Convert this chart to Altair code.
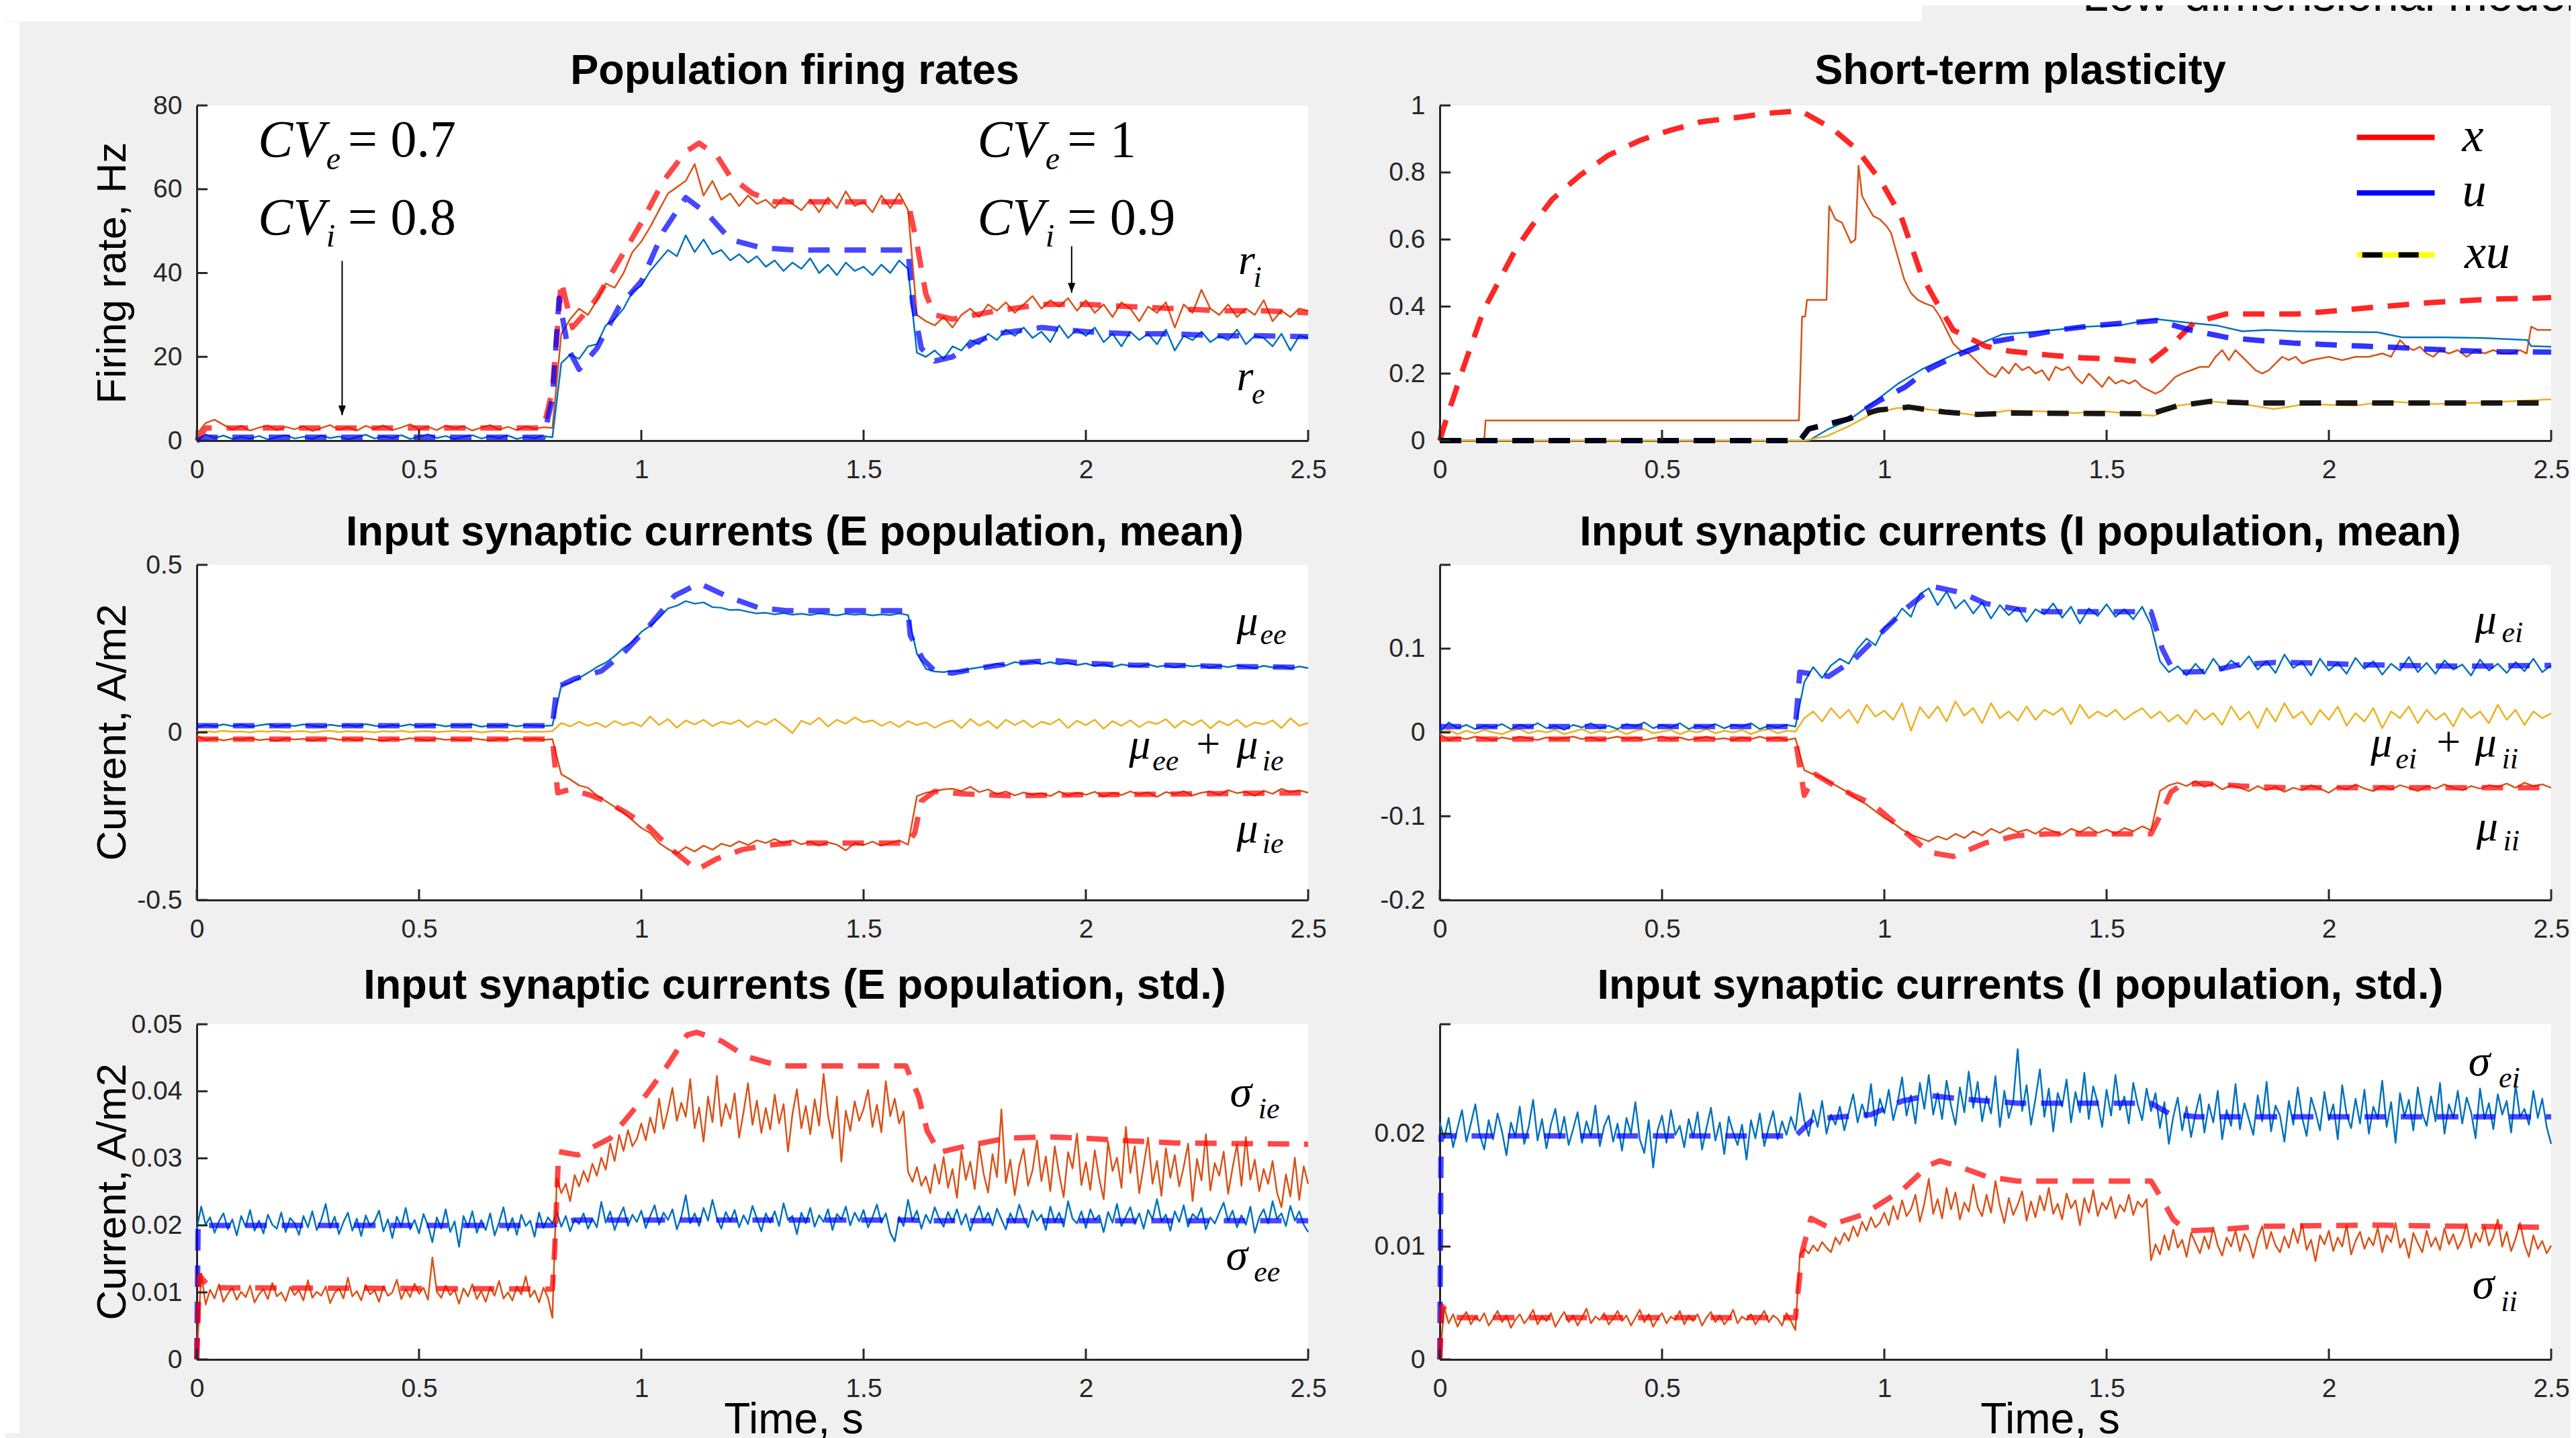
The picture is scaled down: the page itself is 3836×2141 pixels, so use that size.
import altair as alt
import pandas as pd

# ---------------- texts ----------------
HEADER_TEXT = "Low-dimensional model"
TITLES = ["Population firing rates", "Short-term plasticity",
          "Input synaptic currents (E population, mean)", "Input synaptic currents (I population, mean)",
          "Input synaptic currents (E population, std.)", "Input synaptic currents (I population, std.)"]
Y_TITLES = ["Firing rate, Hz", "Current, A/m2", "Current, A/m2"]
X_TITLE = "Time, s"

# ---------------- ticks / domains ----------------
X_TICKS = [0, 0.5, 1, 1.5, 2, 2.5]
P1_YDOM = [0, 80]; P1_YTICKS = [0, 20, 40, 60, 80]
P2_YDOM = [0, 1]; P2_YTICKS = [0, 0.2, 0.4, 0.6, 0.8, 1]
P3_YDOM = [-0.5, 0.5]; P3_YTICKS = [-0.5, 0, 0.5]
P4_YDOM = [-0.2, 0.2]; P4_YTICKS = [-0.2, -0.1, 0, 0.1]; P4_YMARKS = [-0.2, -0.1, 0, 0.1, 0.2]
P5_YDOM = [0, 0.05]; P5_YTICKS = [0, 0.01, 0.02, 0.03, 0.04, 0.05]
P6_YDOM = [0, 0.0297]; P6_YTICKS = [0, 0.01, 0.02]; P6_YMARKS = [0, 0.01, 0.02, 0.0297]

# sample times of the simulated traces
T02 = [round(0.02 * i, 2) for i in range(126)]
T01 = [round(0.01 * i, 2) for i in range(251)]

# ---------------- panel 1: firing rates ----------------
RI_SIM = [1.5, 4.2, 5.0, 3.8, 2.6, 3.5, 2.4, 3.1, 3.6, 2.5,
          3.3, 2.7, 3.4, 2.3, 3.0, 3.7, 2.6, 3.2, 2.4, 3.5,
          2.8, 3.6, 2.5, 3.1, 3.9, 2.7, 3.3, 2.5, 3.6, 2.9,
          3.4, 2.4, 3.1, 3.7, 2.6, 3.3, 2.5, 3.4, 2.8, 3.2,
          3.0, 25.5, 29.0, 31.5, 30.0, 33.5, 37.5, 36.5, 40.0, 45.0,
          47.5, 51.0, 55.0, 59.0, 60.5, 62.0, 66.0, 58.5, 62.0, 57.5,
          59.0, 56.0, 58.5, 56.5, 57.5, 55.5, 58.0, 56.5, 55.0, 57.5,
          54.5, 58.0, 55.5, 59.5, 56.0, 57.0, 54.5, 58.5, 55.5, 59.0,
          55.0, 30.0, 28.5, 27.5, 29.5, 27.0, 30.0, 31.5, 29.5, 32.5,
          31.0, 33.0, 30.5, 32.5, 34.5, 31.5, 33.5, 32.0, 34.0, 31.0,
          33.5, 30.5, 32.5, 29.5, 33.0, 31.5, 28.5, 32.0, 30.5, 33.0,
          27.0, 32.5, 30.5, 36.0, 31.5, 30.0, 32.5, 29.5, 31.5, 30.0,
          33.5, 28.5, 31.0, 29.5, 31.5, 31.0]
RE_SIM = [0.0, 1.5, 0.6, 1.2, 0.4, 0.9, 0.5, 1.1, 0.3, 0.8,
          1.3, 0.5, 0.9, 0.4, 1.2, 0.6, 1.0, 0.3, 0.8, 1.4,
          0.5, 1.0, 0.6, 1.3, 0.4, 0.9, 1.5, 0.6, 1.1, 0.4,
          0.9, 1.3, 0.5, 1.0, 0.6, 1.2, 0.4, 0.9, 0.6, 1.1,
          0.8, 18.5, 20.5, 19.5, 22.5, 23.0, 27.5, 29.0, 31.5, 35.5,
          37.0, 40.5, 43.0, 45.5, 44.0, 49.0, 45.0, 48.0, 44.5, 45.5,
          43.0, 44.5, 42.5, 44.0, 41.5, 43.0, 40.5, 42.5, 41.0, 43.5,
          40.0, 42.0, 39.5, 42.5, 40.5, 41.5, 39.5, 42.0, 40.0, 43.0,
          41.0, 21.0, 20.0, 21.5, 19.5, 22.5, 21.5, 24.0, 23.0, 25.5,
          24.0, 26.5, 25.0, 27.0, 24.5, 26.0, 23.5, 27.5, 24.5, 26.5,
          25.0, 27.0, 23.5, 25.5, 22.5, 26.0, 24.0, 25.5, 23.0, 26.5,
          21.5, 25.0, 24.0, 26.0, 23.5, 25.0, 24.0, 26.5, 23.0, 25.0,
          24.5, 22.5, 25.5, 21.5, 25.0, 24.5]
RI_MOD_T = [0, 0.02, 0.78, 0.80, 0.82, 0.845, 0.87, 0.90, 0.95, 1.00, 1.05, 1.10, 1.13, 1.17, 1.20, 1.25, 1.30,
            1.35, 1.60, 1.62, 1.64, 1.66, 1.70, 1.75, 1.80, 1.90, 2.00, 2.10, 2.20, 2.30, 2.40, 2.50]
RI_MOD_V = [0, 3, 3, 12, 38, 27, 30, 34, 43, 52, 62, 69, 71, 68, 63, 59, 57,
            57, 57, 47, 35, 30, 29, 30, 31, 32.5, 32.5, 32, 31.5, 31, 31, 30.5]
RE_MOD_T = [0, 0.02, 0.78, 0.80, 0.815, 0.835, 0.86, 0.90, 0.95, 1.00, 1.05, 1.10, 1.15, 1.20, 1.27, 1.35,
            1.60, 1.61, 1.63, 1.66, 1.70, 1.75, 1.80, 1.90, 2.00, 2.10, 2.20, 2.30, 2.40, 2.50]
RE_MOD_V = [0, 0.8, 0.8, 10, 34, 22, 17, 22, 32, 38, 50, 58, 54, 48, 46, 45.5,
            45.5, 33, 22, 19, 20, 23.5, 25.5, 27, 26, 25.5, 25.5, 25, 25, 24.8]
CV_T = [0.138, 0.138, 1.756, 1.756]
CV_V = [67.8, 49.2, 67.8, 49.2]
CV_SUB_T = [0.291, 0.291, 1.909, 1.909]
CV_SUB_V = [64.8, 46.4, 64.8, 46.4]
CV_SUB_S = ["e", "i", "e", "i"]
CV_VAL_T = [0.340, 0.340, 1.958, 1.958]
CV_VAL_S = ["= 0.7", "= 0.8", "= 1", "= 0.9"]
ARROW_T = [0.327, 1.968]
ARROW_TOP = [42.9, 46.4]
ARROW_TIP = [6.05, 35.3]
R_T = [2.343, 2.339]; R_V = [39.8, 12.0]
R_SUB_T = [2.377, 2.373]; R_SUB_V = [36.7, 8.8]; R_SUB_S = ["i", "e"]

# ---------------- panel 2: short-term plasticity ----------------
XSIM_T = [0, 0.10, 0.103, 0.808, 0.815, 0.822, 0.826, 0.87, 0.876, 0.89, 0.905, 0.925, 0.935, 0.942, 0.95, 0.962,
          0.975, 0.99, 1.005, 1.015, 1.03, 1.045, 1.06, 1.075, 1.09, 1.11, 1.125, 1.14, 1.155, 1.17, 1.19, 1.205,
          1.22, 1.235, 1.25, 1.265, 1.28, 1.295, 1.31, 1.325, 1.34, 1.355, 1.37, 1.385, 1.40, 1.415, 1.43, 1.445,
          1.46, 1.475, 1.49, 1.505, 1.52, 1.535, 1.55, 1.565, 1.58, 1.595, 1.61, 1.625, 1.64, 1.655, 1.67, 1.69,
          1.71, 1.73, 1.745, 1.76, 1.775, 1.79, 1.805, 1.82, 1.835, 1.85, 1.865, 1.88, 1.895, 1.91, 1.925, 1.94,
          1.96, 1.98, 2.0, 2.03, 2.06, 2.09, 2.12, 2.14, 2.16, 2.175, 2.19, 2.205, 2.22, 2.235, 2.25, 2.27, 2.29,
          2.31, 2.33, 2.35, 2.37, 2.39, 2.41, 2.43, 2.445, 2.455, 2.47, 2.485, 2.5]
XSIM_V = [0, 0, 0.06, 0.06, 0.37, 0.37, 0.42, 0.42, 0.70, 0.66, 0.65, 0.59, 0.60, 0.82, 0.73, 0.70,
          0.67, 0.66, 0.64, 0.62, 0.55, 0.48, 0.44, 0.42, 0.41, 0.40, 0.37, 0.33, 0.29, 0.27, 0.26, 0.24,
          0.22, 0.20, 0.19, 0.22, 0.20, 0.23, 0.21, 0.22, 0.20, 0.21, 0.18, 0.22, 0.21, 0.22, 0.19, 0.17,
          0.20, 0.18, 0.16, 0.19, 0.17, 0.18, 0.17, 0.18, 0.16, 0.15, 0.14, 0.15, 0.17, 0.19, 0.20, 0.21,
          0.22, 0.22, 0.25, 0.27, 0.24, 0.27, 0.25, 0.23, 0.21, 0.20, 0.21, 0.23, 0.25, 0.24, 0.25, 0.23,
          0.24, 0.245, 0.25, 0.24, 0.25, 0.25, 0.26, 0.25, 0.30, 0.28, 0.27, 0.28, 0.26, 0.25, 0.27, 0.26, 0.27,
          0.25, 0.27, 0.26, 0.27, 0.26, 0.26, 0.27, 0.26, 0.34, 0.33, 0.33, 0.33]
USIM_T = [0, 0.83, 0.875, 0.92, 0.975, 1.03, 1.085, 1.155, 1.21, 1.265, 1.355, 1.445, 1.535, 1.607, 1.68,
          1.75, 1.805, 1.86, 1.93, 2.04, 2.11, 2.165, 2.256, 2.347, 2.446, 2.455, 2.5]
USIM_V = [0, 0, 0.035, 0.061, 0.113, 0.169, 0.213, 0.256, 0.286, 0.317, 0.326, 0.339, 0.345, 0.363, 0.352,
          0.343, 0.326, 0.33, 0.326, 0.324, 0.323, 0.308, 0.308, 0.306, 0.300, 0.282, 0.28]
XUSIM_T = [0, 0.82, 0.87, 0.92, 0.975, 1.03, 1.07, 1.137, 1.21, 1.28, 1.354, 1.426, 1.498, 1.55, 1.606, 1.66,
           1.733, 1.805, 1.877, 1.95, 2.058, 2.13, 2.238, 2.347, 2.5]
XUSIM_V = [0, 0, 0.013, 0.043, 0.082, 0.097, 0.097, 0.087, 0.075, 0.09, 0.087, 0.082, 0.087, 0.08, 0.074, 0.104,
           0.117, 0.109, 0.094, 0.109, 0.104, 0.117, 0.109, 0.113, 0.123]
XMOD_T = [0, 0.018, 0.054, 0.099, 0.171, 0.208, 0.253, 0.316, 0.379, 0.451, 0.514, 0.587, 0.668, 0.740, 0.812,
          0.884, 0.939, 0.993, 1.038, 1.083, 1.110, 1.155, 1.227, 1.282, 1.363, 1.444, 1.516, 1.597, 1.643,
          1.697, 1.769, 1.931, 2.004, 2.076, 2.157, 2.229, 2.31, 2.383, 2.464, 2.5]
XMOD_V = [0, 0.078, 0.221, 0.39, 0.571, 0.642, 0.72, 0.792, 0.851, 0.896, 0.924, 0.951, 0.964, 0.977, 0.984,
          0.93, 0.868, 0.773, 0.668, 0.495, 0.43, 0.33, 0.282, 0.267, 0.256, 0.247, 0.243, 0.234, 0.282,
          0.352, 0.378, 0.378, 0.386, 0.395, 0.404, 0.412, 0.418, 0.423, 0.425, 0.427]
UMOD_T = [0, 0.81, 0.83, 0.92, 0.99, 1.047, 1.10, 1.173, 1.245, 1.318, 1.39, 1.47, 1.543, 1.615, 1.688, 1.77,
          1.84, 1.92, 2.0, 2.076, 2.15, 2.22, 2.29, 2.375, 2.5]
UMOD_V = [0, 0, 0.035, 0.065, 0.12, 0.16, 0.213, 0.26, 0.295, 0.312, 0.33, 0.343, 0.351, 0.358, 0.33, 0.308,
          0.299, 0.291, 0.286, 0.282, 0.278, 0.273, 0.269, 0.265, 0.264]
XUMOD_T = [0, 0.81, 0.83, 0.91, 0.985, 1.056, 1.137, 1.21, 1.28, 1.6, 1.66, 1.733, 1.805, 1.886, 2.5]
XUMOD_V = [0, 0, 0.035, 0.061, 0.091, 0.10, 0.085, 0.078, 0.082, 0.08, 0.104, 0.117, 0.113, 0.112, 0.112]
LEG_T = [2.063, 2.238]
LEG_V = [0.905, 0.739, 0.554]
LEG_LBL_T = [2.30, 2.30, 2.305]
LEG_LBL_V = [0.864, 0.699, 0.516]
LEG_LBL_S = ["x", "u", "xu"]

# ---------------- panel 3: E population mean currents ----------------
MUEE_SIM = [0.015, 0.022, 0.018, 0.024, 0.019, 0.023, 0.017, 0.021, 0.025, 0.018,
            0.022, 0.019, 0.024, 0.02, 0.017, 0.023, 0.019, 0.022, 0.018, 0.025,
            0.02, 0.017, 0.022, 0.019, 0.024, 0.018, 0.021, 0.023, 0.018, 0.022,
            0.02, 0.024, 0.017, 0.021, 0.019, 0.023, 0.018, 0.022, 0.02, 0.019,
            0.021, 0.14, 0.148, 0.162, 0.178, 0.195, 0.208, 0.228, 0.252, 0.27,
            0.3, 0.318, 0.342, 0.37, 0.378, 0.392, 0.384, 0.388, 0.374, 0.372,
            0.365, 0.366, 0.36, 0.355, 0.357, 0.352, 0.356, 0.351, 0.354, 0.35,
            0.355, 0.352, 0.349, 0.354, 0.351, 0.353, 0.349, 0.352, 0.35, 0.355,
            0.35, 0.235, 0.19, 0.182, 0.18, 0.184, 0.182, 0.19, 0.194, 0.198,
            0.205, 0.2, 0.21, 0.206, 0.212, 0.204, 0.21, 0.203, 0.207, 0.201,
            0.206, 0.198, 0.204, 0.195, 0.203, 0.199, 0.197, 0.203, 0.196, 0.2,
            0.194, 0.201, 0.197, 0.2, 0.193, 0.199, 0.195, 0.2, 0.196, 0.192,
            0.199, 0.194, 0.197, 0.191, 0.197, 0.192]
MUIE_SIM = [-0.01, -0.022, -0.018, -0.024, -0.019, -0.021, -0.017, -0.023, -0.02, -0.025,
            -0.018, -0.021, -0.019, -0.024, -0.02, -0.017, -0.022, -0.019, -0.023, -0.018,
            -0.021, -0.025, -0.019, -0.022, -0.017, -0.021, -0.024, -0.018, -0.022, -0.02,
            -0.023, -0.018, -0.021, -0.024, -0.019, -0.022, -0.018, -0.021, -0.019, -0.022,
            -0.02, -0.125, -0.14, -0.158, -0.165, -0.188, -0.205, -0.222, -0.24, -0.262,
            -0.285, -0.3, -0.33, -0.348, -0.362, -0.342, -0.355, -0.338, -0.35, -0.332,
            -0.34, -0.325, -0.336, -0.322, -0.33, -0.318, -0.331, -0.322, -0.334, -0.326,
            -0.338, -0.328, -0.335, -0.352, -0.33, -0.336, -0.326, -0.338, -0.33, -0.322,
            -0.335, -0.19, -0.18, -0.176, -0.17, -0.168, -0.175, -0.162, -0.178, -0.17,
            -0.184, -0.176, -0.188, -0.179, -0.186, -0.181, -0.19, -0.176, -0.188, -0.18,
            -0.186, -0.177, -0.191, -0.18, -0.187, -0.176, -0.185, -0.179, -0.192, -0.178,
            -0.184, -0.175, -0.188, -0.18, -0.176, -0.186, -0.172, -0.181, -0.177, -0.189,
            -0.174, -0.183, -0.168, -0.178, -0.173, -0.18]
SUME_SIM = [0.002, 0.004, 0.001, 0.005, 0.002, 0.003, 0.0, 0.004, 0.002, 0.005,
            0.001, 0.003, 0.004, 0.0, 0.003, 0.005, 0.001, 0.004, 0.002, 0.003,
            0.0, 0.004, 0.002, 0.005, 0.001, 0.003, 0.004, 0.001, 0.003, 0.005,
            0.002, 0.004, 0.0, 0.003, 0.005, 0.002, 0.004, 0.001, 0.003, 0.002,
            0.004, 0.028, 0.018, 0.032, 0.02, 0.029, 0.016, 0.034, 0.022, 0.03,
            0.018, 0.048, 0.022, 0.04, 0.014, 0.036, 0.024, 0.038, 0.019, 0.032,
            0.025, 0.037, 0.016, 0.034, 0.023, 0.04, 0.02, -0.002, 0.035, 0.024,
            0.044, 0.018, 0.038, 0.026, 0.045, 0.03, 0.036, 0.02, 0.032, 0.016,
            0.034, 0.022, 0.03, 0.014, 0.028, 0.036, 0.013, 0.04, 0.02, 0.034,
            0.012, 0.038, 0.022, 0.036, 0.015, 0.032, 0.024, 0.04, 0.013, 0.035,
            0.022, 0.038, 0.011, 0.034, 0.02, 0.036, 0.016, 0.032, 0.025, 0.04,
            0.014, 0.035, 0.022, 0.037, 0.012, 0.034, 0.021, 0.038, 0.016, 0.03,
            0.024, 0.036, 0.013, 0.042, 0.02, 0.028]
MUEE_MOD_T = [0, 0.8, 0.81, 0.85, 0.91, 0.96, 1.018, 1.075, 1.13, 1.198, 1.264, 1.33, 1.6, 1.605, 1.633, 1.66,
              1.7, 1.76, 1.832, 1.927, 2.0, 2.1, 2.2, 2.3, 2.4, 2.5]
MUEE_MOD_V = [0.02, 0.02, 0.135, 0.16, 0.183, 0.237, 0.318, 0.408, 0.445, 0.403, 0.372, 0.363, 0.363, 0.29,
              0.219, 0.183, 0.177, 0.192, 0.206, 0.215, 0.206, 0.201, 0.2, 0.197, 0.196, 0.194]
MUIE_MOD_T = [0, 0.8, 0.812, 0.84, 0.88, 0.92, 0.96, 1.018, 1.065, 1.125, 1.17, 1.226, 1.28, 1.33, 1.6, 1.615,
              1.63, 1.66, 1.72, 1.83, 2.0, 2.2, 2.5]
MUIE_MOD_V = [-0.02, -0.02, -0.18, -0.17, -0.185, -0.205, -0.235, -0.283, -0.346, -0.41, -0.377, -0.35,
              -0.337, -0.33, -0.33, -0.3, -0.205, -0.176, -0.183, -0.189, -0.186, -0.184, -0.18]
P3_MU_T = [2.339, 2.097, 2.339, 2.339]; P3_MU_V = [0.291, -0.077, -0.077, -0.328]
P3_SUB_T = [2.392, 2.150, 2.397, 2.397]; P3_SUB_V = [0.264, -0.113, -0.113, -0.359]
P3_SUB_S = ["ee", "ee", "ie", "ie"]
P3_PLUS_T = [2.248]; P3_PLUS_V = [-0.077]

# ---------------- panel 4: I population mean currents ----------------
MUEI_SIM = [0.0, 0.012, 0.005, 0.009, 0.004, 0.008, 0.006, 0.01, 0.004, 0.009,
            0.006, 0.011, 0.005, 0.008, 0.003, 0.009, 0.006, 0.011, 0.005, 0.008,
            0.004, 0.01, 0.007, 0.012, 0.005, 0.009, 0.006, 0.011, 0.004, 0.008,
            0.006, 0.01, 0.005, 0.009, 0.007, 0.011, 0.004, 0.008, 0.006, 0.009,
            0.007, 0.06, 0.078, 0.065, 0.08, 0.088, 0.082, 0.1, 0.112, 0.104,
            0.125, 0.132, 0.148, 0.138, 0.165, 0.172, 0.152, 0.168, 0.148, 0.158,
            0.142, 0.155, 0.136, 0.152, 0.14, 0.149, 0.132, 0.147, 0.141, 0.154,
            0.137, 0.15, 0.13, 0.148, 0.139, 0.153, 0.138, 0.147, 0.135, 0.15,
            0.128, 0.085, 0.072, 0.079, 0.068, 0.082, 0.07, 0.088, 0.074, 0.086,
            0.078, 0.091, 0.075, 0.085, 0.071, 0.093, 0.077, 0.084, 0.068, 0.088,
            0.074, 0.083, 0.07, 0.089, 0.076, 0.085, 0.069, 0.082, 0.074, 0.09,
            0.072, 0.083, 0.07, 0.086, 0.075, 0.081, 0.068, 0.087, 0.074, 0.082,
            0.071, 0.084, 0.073, 0.088, 0.072, 0.08]
MUII_SIM = [-0.002, -0.009, -0.006, -0.008, -0.005, -0.007, -0.009, -0.006, -0.008, -0.005,
            -0.007, -0.009, -0.006, -0.008, -0.007, -0.005, -0.008, -0.006, -0.009, -0.007,
            -0.005, -0.008, -0.006, -0.009, -0.007, -0.005, -0.008, -0.006, -0.009, -0.007,
            -0.005, -0.008, -0.007, -0.009, -0.006, -0.008, -0.005, -0.008, -0.006, -0.009,
            -0.007, -0.045, -0.05, -0.054, -0.06, -0.066, -0.072, -0.08, -0.086, -0.094,
            -0.102, -0.108, -0.116, -0.122, -0.126, -0.13, -0.124, -0.128, -0.121, -0.126,
            -0.118, -0.123, -0.115, -0.12, -0.114, -0.119, -0.116, -0.121, -0.114, -0.118,
            -0.122, -0.115, -0.119, -0.113, -0.12, -0.116, -0.121, -0.114, -0.118, -0.112,
            -0.117, -0.07, -0.063, -0.06, -0.064, -0.058, -0.065, -0.061, -0.068, -0.063,
            -0.066, -0.07, -0.064, -0.069, -0.065, -0.071, -0.066, -0.069, -0.063, -0.067,
            -0.072, -0.065, -0.068, -0.062, -0.067, -0.07, -0.064, -0.068, -0.063, -0.066,
            -0.07, -0.064, -0.067, -0.062, -0.066, -0.069, -0.064, -0.067, -0.063, -0.065,
            -0.061, -0.066, -0.06, -0.064, -0.062, -0.066]
SUMI_SIM = [0.0, 0.003, -0.002, 0.002, -0.001, 0.003, 0.0, -0.002, 0.002, 0.004,
            -0.001, 0.002, 0.0, 0.003, -0.002, 0.001, 0.004, -0.001, 0.002, 0.0,
            0.003, -0.002, 0.002, 0.004, -0.001, 0.001, 0.003, -0.002, 0.002, 0.0,
            0.004, -0.001, 0.002, 0.0, 0.003, -0.002, 0.002, 0.004, -0.001, 0.002,
            0.001, 0.017, 0.025, 0.013, 0.029, 0.017, 0.027, 0.011, 0.033, 0.019,
            0.026, 0.015, 0.035, 0.002, 0.03, 0.017, 0.031, 0.013, 0.037, 0.02,
            0.029, 0.011, 0.035, 0.017, 0.025, 0.014, 0.031, 0.015, 0.027, 0.021,
            0.029, 0.01, 0.033, 0.017, 0.025, 0.019, 0.027, 0.015, 0.023, 0.029,
            0.017, 0.025, 0.013, 0.021, 0.01, 0.027, 0.015, 0.023, 0.009, 0.031,
            0.015, 0.025, 0.005, 0.029, 0.013, 0.035, 0.017, 0.025, 0.009, 0.027,
            0.015, 0.031, 0.008, 0.023, 0.013, 0.029, 0.005, 0.025, 0.017, 0.031,
            0.011, 0.027, 0.015, 0.023, 0.007, 0.029, 0.017, 0.025, 0.011, 0.033,
            0.015, 0.027, 0.009, 0.025, 0.017, 0.023]
MUEI_MOD_T = [0, 0.8, 0.81, 0.875, 0.93, 0.993, 1.047, 1.11, 1.173, 1.227, 1.3, 1.37, 1.6, 1.625, 1.645, 1.67,
              1.73, 1.8, 1.88, 1.97, 2.06, 2.15, 2.3, 2.5]
MUEI_MOD_V = [0.007, 0.007, 0.072, 0.067, 0.086, 0.119, 0.147, 0.174, 0.167, 0.154, 0.147, 0.144, 0.144, 0.1,
              0.079, 0.072, 0.073, 0.081, 0.0835, 0.083, 0.081, 0.08, 0.079, 0.08]
MUII_MOD_T = [0, 0.8, 0.82, 0.845, 0.87, 0.93, 0.975, 1.03, 1.10, 1.155, 1.227, 1.3, 1.37, 1.6, 1.63, 1.645,
              1.67, 1.72, 1.8, 1.9, 2.5]
MUII_MOD_V = [-0.008, -0.008, -0.075, -0.05, -0.058, -0.075, -0.086, -0.111, -0.143, -0.148, -0.132, -0.123,
              -0.121, -0.121, -0.089, -0.071, -0.062, -0.061, -0.064, -0.066, -0.066]
P4_MU_T = [2.329, 2.094, 2.329, 2.332]; P4_MU_V = [0.1186, -0.0283, -0.0283, -0.1287]
P4_SUB_T = [2.389, 2.150, 2.389, 2.392]; P4_SUB_V = [0.108, -0.0427, -0.0427, -0.141]
P4_SUB_S = ["ei", "ei", "ii", "ii"]
P4_PLUS_T = [2.242]; P4_PLUS_V = [-0.0283]

# ---------------- panel 5: E population std ----------------
SEE_SIM = [0.0195, 0.0228, 0.0201, 0.0212, 0.0189, 0.0206, 0.0218, 0.0194, 0.0209, 0.0185,
           0.0214, 0.0198, 0.0223, 0.0192, 0.0207, 0.0188, 0.0216, 0.0201, 0.0195, 0.0219,
           0.0190, 0.0211, 0.0203, 0.0186, 0.0214, 0.0197, 0.0221, 0.0193, 0.0208, 0.0232,
           0.0196, 0.0213, 0.0187, 0.0205, 0.0219, 0.0192, 0.0210, 0.0184, 0.0215, 0.0199,
           0.0206, 0.0222, 0.0191, 0.0209, 0.0181, 0.0213, 0.0198, 0.0226, 0.0194, 0.0208,
           0.0188, 0.0217, 0.0200, 0.0175, 0.0212, 0.0195, 0.0224, 0.0190, 0.0206, 0.0168,
           0.0214, 0.0197, 0.0221, 0.0189, 0.0208, 0.0193, 0.0218, 0.0185, 0.0204, 0.0227,
           0.0192, 0.0211, 0.0186, 0.0216, 0.0199, 0.0207, 0.0183, 0.0219, 0.0196, 0.0212,
           0.0203, 0.0220, 0.0198, 0.0214, 0.0191, 0.0209, 0.0202, 0.0218, 0.0195, 0.0210,
           0.0197, 0.0235, 0.0204, 0.0221, 0.0193, 0.0212, 0.0227, 0.0199, 0.0216, 0.0205,
           0.0222, 0.0196, 0.0214, 0.0230, 0.0201, 0.0219, 0.0208, 0.0224, 0.0194, 0.0213,
           0.0245, 0.0203, 0.0218, 0.0199, 0.0226, 0.0207, 0.0238, 0.0211, 0.0195, 0.0220,
           0.0206, 0.0223, 0.0197, 0.0215, 0.0202, 0.0229, 0.0210, 0.0191, 0.0218, 0.0204,
           0.0221, 0.0199, 0.0233, 0.0208, 0.0214, 0.0187, 0.0219, 0.0203, 0.0226, 0.0198,
           0.0215, 0.0205, 0.0224, 0.0193, 0.0217, 0.0209, 0.0228, 0.0200, 0.0219, 0.0206,
           0.0223, 0.0197, 0.0212, 0.0231, 0.0204, 0.0218, 0.0189, 0.0176, 0.0213, 0.0199,
           0.0238, 0.0207, 0.0222, 0.0195, 0.0216, 0.0203, 0.0227, 0.0210, 0.0198, 0.0220,
           0.0205, 0.0224, 0.0201, 0.0217, 0.0192, 0.0213, 0.0229, 0.0206, 0.0219, 0.0200,
           0.0225, 0.0209, 0.0194, 0.0218, 0.0204, 0.0231, 0.0211, 0.0197, 0.0222, 0.0207,
           0.0216, 0.0193, 0.0228, 0.0205, 0.0219, 0.0198, 0.0236, 0.0210, 0.0203, 0.0221,
           0.0196, 0.0224, 0.0208, 0.0215, 0.0190, 0.0220, 0.0204, 0.0232, 0.0199, 0.0213,
           0.0227, 0.0202, 0.0218, 0.0195, 0.0223, 0.0209, 0.0239, 0.0206, 0.0216, 0.0192,
           0.0221, 0.0205, 0.0230, 0.0198, 0.0217, 0.0210, 0.0226, 0.0194, 0.0212, 0.0203,
           0.0219, 0.0234, 0.0207, 0.0222, 0.0197, 0.0215, 0.0201, 0.0228, 0.0189, 0.0212,
           0.0224, 0.0203, 0.0236, 0.0210, 0.0218, 0.0199, 0.0229, 0.0207, 0.0221, 0.0201,
           0.0190]
SIE_SIM = [0.0000, 0.0128, 0.0082, 0.0104, 0.0091, 0.0112, 0.0086, 0.0098, 0.0107, 0.0089,
           0.0101, 0.0093, 0.0110, 0.0085, 0.0097, 0.0105, 0.0090, 0.0114, 0.0094, 0.0100,
           0.0087, 0.0108, 0.0096, 0.0103, 0.0088, 0.0118, 0.0092, 0.0101, 0.0095, 0.0109,
           0.0084, 0.0099, 0.0106, 0.0091, 0.0122, 0.0094, 0.0102, 0.0088, 0.0111, 0.0097,
           0.0103, 0.0086, 0.0109, 0.0095, 0.0100, 0.0119, 0.0090, 0.0105, 0.0093, 0.0113,
           0.0098, 0.0107, 0.0089, 0.0152, 0.0101, 0.0092, 0.0110, 0.0096, 0.0104, 0.0083,
           0.0106, 0.0094, 0.0112, 0.0090, 0.0102, 0.0086, 0.0108, 0.0095, 0.0117, 0.0091,
           0.0100, 0.0088, 0.0109, 0.0097, 0.0124, 0.0093, 0.0103, 0.0085, 0.0107, 0.0092,
           0.0062, 0.0270, 0.0248, 0.0262, 0.0236, 0.0275, 0.0258, 0.0281, 0.0265, 0.0292,
           0.0274, 0.0301, 0.0283, 0.0322, 0.0296, 0.0335, 0.0311, 0.0342, 0.0318, 0.0329,
           0.0352, 0.0327, 0.0361, 0.0338, 0.0389, 0.0344, 0.0372, 0.0405, 0.0356, 0.0383,
           0.0362, 0.0418, 0.0345, 0.0376, 0.0325, 0.0392, 0.0354, 0.0423, 0.0348, 0.0381,
           0.0359, 0.0397, 0.0331, 0.0369, 0.0412, 0.0350, 0.0386, 0.0338, 0.0375, 0.0343,
           0.0395, 0.0352, 0.0381, 0.0310, 0.0366, 0.0403, 0.0345, 0.0378, 0.0336, 0.0388,
           0.0349, 0.0426, 0.0364, 0.0330, 0.0392, 0.0295, 0.0371, 0.0341, 0.0385, 0.0356,
           0.0374, 0.0402, 0.0347, 0.0380, 0.0339, 0.0415, 0.0363, 0.0389, 0.0352, 0.0370,
           0.0280, 0.0265, 0.0287, 0.0259, 0.0273, 0.0248, 0.0291, 0.0262, 0.0302, 0.0256,
           0.0284, 0.0241, 0.0311, 0.0268, 0.0295, 0.0254, 0.0320, 0.0277, 0.0249, 0.0306,
           0.0272, 0.0373, 0.0263, 0.0298, 0.0245, 0.0289, 0.0314, 0.0259, 0.0282, 0.0327,
           0.0266, 0.0303, 0.0251, 0.0318, 0.0276, 0.0242, 0.0309, 0.0285, 0.0337, 0.0260,
           0.0294, 0.0253, 0.0312, 0.0270, 0.0239, 0.0325, 0.0281, 0.0301, 0.0256, 0.0347,
           0.0278, 0.0318, 0.0248, 0.0289, 0.0331, 0.0262, 0.0296, 0.0244, 0.0315, 0.0271,
           0.0305, 0.0258, 0.0287, 0.0322, 0.0236, 0.0299, 0.0267, 0.0336, 0.0252, 0.0293,
           0.0274, 0.0310, 0.0247, 0.0286, 0.0321, 0.0259, 0.0332, 0.0268, 0.0298, 0.0251,
           0.0284, 0.0262, 0.0296, 0.0249, 0.0227, 0.0276, 0.0243, 0.0301, 0.0238, 0.0288,
           0.0262]
SEE_MOD_T = [0, 0.003, 0.8, 0.85, 1.6, 1.65, 2.5]
SEE_MOD_V = [0, 0.020, 0.020, 0.0208, 0.0208, 0.0207, 0.0207]
SIE_MOD_T = [0, 0.006, 0.03, 0.8, 0.805, 0.814, 0.857, 0.93, 1.01, 1.056, 1.103, 1.125, 1.18, 1.236, 1.31,
             1.595, 1.624, 1.643, 1.67, 1.728, 1.822, 1.917, 2.0, 2.1, 2.2, 2.35, 2.5]
SIE_MOD_V = [0, 0.0125, 0.0107, 0.0105, 0.0162, 0.031, 0.0305, 0.033, 0.0394, 0.0436, 0.0484, 0.0488, 0.0475,
             0.0452, 0.0438, 0.0438, 0.0392, 0.0341, 0.0309, 0.0318, 0.033, 0.0332, 0.033, 0.0326, 0.0323,
             0.0322, 0.0321]
P5_SIG_T = [2.324, 2.315]; P5_SIG_V = [0.0378, 0.01347]
P5_SUB_T = [2.388, 2.378]; P5_SUB_V = [0.036, 0.01163]; P5_SUB_S = ["ie", "ee"]

# ---------------- panel 6: I population std ----------------
SEI_SIM = [0.0210, 0.0196, 0.0214, 0.0188, 0.0205, 0.0221, 0.0193, 0.0209, 0.0226, 0.0199,
           0.0186, 0.0212, 0.0195, 0.0218, 0.0202, 0.0181, 0.0210, 0.0197, 0.0224, 0.0191,
           0.0206, 0.0230, 0.0194, 0.0213, 0.0187, 0.0208, 0.0222, 0.0196, 0.0215, 0.0190,
           0.0204, 0.0219, 0.0192, 0.0211, 0.0198, 0.0225, 0.0189, 0.0207, 0.0216, 0.0193,
           0.0209, 0.0185, 0.0214, 0.0200, 0.0228, 0.0195, 0.0183, 0.0212, 0.0170, 0.0203,
           0.0216, 0.0192, 0.0221, 0.0199, 0.0207, 0.0188, 0.0213, 0.0197, 0.0219, 0.0186,
           0.0205, 0.0223, 0.0194, 0.0210, 0.0182, 0.0215, 0.0201, 0.0190, 0.0208, 0.0177,
           0.0212, 0.0196, 0.0218, 0.0189, 0.0206, 0.0220, 0.0195, 0.0211, 0.0199, 0.0215,
           0.0203, 0.0236, 0.0212, 0.0198, 0.0221, 0.0206, 0.0229, 0.0200, 0.0217, 0.0208,
           0.0224, 0.0203, 0.0219, 0.0235, 0.0210, 0.0226, 0.0214, 0.0244, 0.0207, 0.0231,
           0.0218, 0.0239, 0.0212, 0.0228, 0.0250, 0.0216, 0.0234, 0.0209, 0.0245, 0.0222,
           0.0252, 0.0217, 0.0236, 0.0213, 0.0247, 0.0225, 0.0208, 0.0241, 0.0219, 0.0255,
           0.0223, 0.0246, 0.0211, 0.0233, 0.0218, 0.0251, 0.0206, 0.0238, 0.0214, 0.0229,
           0.0275, 0.0220, 0.0243, 0.0208, 0.0231, 0.0257, 0.0215, 0.0240, 0.0202, 0.0236,
           0.0224, 0.0248, 0.0210, 0.0237, 0.0219, 0.0254, 0.0213, 0.0242, 0.0227, 0.0206,
           0.0239, 0.0216, 0.0252, 0.0221, 0.0233, 0.0209, 0.0245, 0.0226, 0.0212, 0.0240,
           0.0220, 0.0236, 0.0205, 0.0228, 0.0191, 0.0215, 0.0232, 0.0203, 0.0224, 0.0197,
           0.0218, 0.0235, 0.0201, 0.0226, 0.0210, 0.0238, 0.0195, 0.0221, 0.0207, 0.0244,
           0.0204, 0.0227, 0.0213, 0.0199, 0.0234, 0.0211, 0.0246, 0.0202, 0.0225, 0.0216,
           0.0193, 0.0229, 0.0208, 0.0241, 0.0214, 0.0198, 0.0232, 0.0219, 0.0203, 0.0237,
           0.0212, 0.0226, 0.0195, 0.0243, 0.0217, 0.0205, 0.0231, 0.0209, 0.0239, 0.0200,
           0.0224, 0.0213, 0.0247, 0.0206, 0.0228, 0.0192, 0.0236, 0.0215, 0.0230, 0.0203,
           0.0241, 0.0218, 0.0207, 0.0233, 0.0211, 0.0245, 0.0200, 0.0226, 0.0214, 0.0238,
           0.0209, 0.0232, 0.0219, 0.0196, 0.0240, 0.0213, 0.0227, 0.0204, 0.0235, 0.0217,
           0.0229, 0.0201, 0.0243, 0.0215, 0.0222, 0.0208, 0.0238, 0.0214, 0.0231, 0.0206,
           0.0191]
SII_SIM = [0.0000, 0.0046, 0.0032, 0.0040, 0.0029, 0.0037, 0.0042, 0.0031, 0.0038, 0.0034,
           0.0041, 0.0030, 0.0036, 0.0043, 0.0033, 0.0039, 0.0028, 0.0035, 0.0040, 0.0032,
           0.0037, 0.0044, 0.0031, 0.0038, 0.0034, 0.0041, 0.0029, 0.0036, 0.0042, 0.0033,
           0.0039, 0.0030, 0.0037, 0.0045, 0.0032, 0.0038, 0.0035, 0.0041, 0.0031, 0.0036,
           0.0043, 0.0034, 0.0039, 0.0030, 0.0037, 0.0044, 0.0033, 0.0040, 0.0029, 0.0036,
           0.0041, 0.0032, 0.0038, 0.0035, 0.0043, 0.0031, 0.0039, 0.0034, 0.0040, 0.0030,
           0.0037, 0.0042, 0.0033, 0.0039, 0.0031, 0.0036, 0.0044, 0.0032, 0.0038, 0.0035,
           0.0040, 0.0031, 0.0037, 0.0043, 0.0033, 0.0039, 0.0036, 0.0030, 0.0041, 0.0034,
           0.0026, 0.0092, 0.0098, 0.0094, 0.0101, 0.0096, 0.0104, 0.0099, 0.0095, 0.0108,
           0.0102, 0.0112, 0.0105, 0.0118, 0.0109, 0.0122, 0.0114, 0.0126, 0.0117, 0.0121,
           0.0130, 0.0119, 0.0136, 0.0124, 0.0141, 0.0127, 0.0133, 0.0146, 0.0122, 0.0138,
           0.0160, 0.0129, 0.0142, 0.0125, 0.0152, 0.0133, 0.0148, 0.0124, 0.0139, 0.0131,
           0.0155, 0.0135, 0.0127, 0.0146, 0.0130, 0.0158, 0.0136, 0.0121, 0.0143, 0.0128,
           0.0137, 0.0149, 0.0123, 0.0140, 0.0126, 0.0145, 0.0132, 0.0152, 0.0129, 0.0138,
           0.0124, 0.0147, 0.0134, 0.0141, 0.0119, 0.0143, 0.0130, 0.0150, 0.0127, 0.0139,
           0.0133, 0.0144, 0.0125, 0.0137, 0.0131, 0.0146, 0.0128, 0.0140, 0.0135, 0.0142,
           0.0088, 0.0102, 0.0093, 0.0110, 0.0097, 0.0115, 0.0099, 0.0106, 0.0091, 0.0112,
           0.0103, 0.0094, 0.0109, 0.0098, 0.0117, 0.0101, 0.0092, 0.0108, 0.0100, 0.0114,
           0.0096, 0.0111, 0.0104, 0.0090, 0.0107, 0.0118, 0.0098, 0.0113, 0.0101, 0.0095,
           0.0109, 0.0099, 0.0116, 0.0103, 0.0120, 0.0097, 0.0106, 0.0087, 0.0110, 0.0102,
           0.0114, 0.0096, 0.0108, 0.0100, 0.0119, 0.0093, 0.0105, 0.0113, 0.0098, 0.0108,
           0.0101, 0.0117, 0.0095, 0.0110, 0.0104, 0.0121, 0.0099, 0.0107, 0.0090, 0.0112,
           0.0103, 0.0095, 0.0114, 0.0100, 0.0108, 0.0097, 0.0116, 0.0102, 0.0111, 0.0098,
           0.0106, 0.0120, 0.0099, 0.0112, 0.0104, 0.0118, 0.0101, 0.0109, 0.0124, 0.0100,
           0.0113, 0.0096, 0.0107, 0.0121, 0.0102, 0.0091, 0.0110, 0.0098, 0.0105, 0.0094,
           0.0101]
SEI_MOD_T = [0, 0.003, 0.8, 0.84, 0.97, 1.04, 1.1, 1.17, 1.3, 1.6, 1.64, 1.7, 2.5]
SEI_MOD_V = [0, 0.0198, 0.0198, 0.0213, 0.0217, 0.0229, 0.0234, 0.0231, 0.0227, 0.0227, 0.0218, 0.0215, 0.0215]
SII_MOD_T = [0, 0.005, 0.03, 0.8, 0.815, 0.835, 0.87, 0.95, 1.04, 1.1, 1.125, 1.16, 1.23, 1.3, 1.6, 1.62, 1.65,
             1.68, 1.75, 1.85, 2.1, 2.5]
SII_MOD_V = [0, 0.0047, 0.0037, 0.0037, 0.0095, 0.0125, 0.0118, 0.0128, 0.015, 0.0172, 0.0176, 0.0172, 0.0162,
             0.0158, 0.0158, 0.0145, 0.0124, 0.0114, 0.0115, 0.0118, 0.0119, 0.0117]
P6_SIG_T = [2.314, 2.323]; P6_SIG_V = [0.0252, 0.0054]
P6_SUB_T = [2.382, 2.387]; P6_SUB_V = [0.0241, 0.0043]; P6_SUB_S = ["ei", "ii"]

# ---------------- style / layout ----------------
BG = "#f0f0f0"
AX = "#262626"
BLUE = "#0072BD"; ORANGE = "#D95319"; YELLOW = "#EDB120"
RED_D = "#ff0000"; BLUE_D = "#0000ff"
SANS = "Liberation Sans"; SERIF = "Liberation Serif"
W, H = 1655, 499
TOP = 124          # room above the first row (titles)
DASH = [32, 22]
LBL = "'' + datum.value"
ONE = pd.DataFrame({"a": [0]})


def encodings(ydom, yvals):
    xkw = dict(values=X_TICKS, labelExpr=LBL, ticks=False, grid=False, domainColor=AX, domainWidth=3,
               labelFont=SANS, labelFontSize=39, labelColor=AX, labelPadding=24, labelFlush=False,
               labelOverlap=False, labelBound=False, labelBaseline="top", title=None)
    ykw = dict(values=yvals, labelExpr=LBL, ticks=False, grid=False, domainColor=AX, domainWidth=3,
               labelFont=SANS, labelFontSize=39, labelColor=AX, labelPadding=22, labelOverlap=False,
               labelBound=False, title=None)
    X = alt.X("t:Q", scale=alt.Scale(domain=[0, 2.5], nice=False, zero=False), axis=alt.Axis(**xkw))
    Y = alt.Y("v:Q", scale=alt.Scale(domain=ydom, nice=False, zero=False), axis=alt.Axis(**ykw))
    return X, Y


def line(X, Y, t, v, color, width=2.5, dash=None, opacity=1.0, dash_offset=None):
    n = min(len(t), len(v))
    df = pd.DataFrame({"t": list(t)[:n], "v": list(v)[:n], "i": list(range(n))})
    kw = dict(color=color, strokeWidth=width, opacity=opacity, strokeJoin="round")
    if dash:
        kw["strokeDash"] = dash
    if dash_offset is not None:
        kw["strokeDashOffset"] = dash_offset
    return alt.Chart(df).mark_line(**kw).encode(x=X, y=Y, order="i:Q")


def ticks(X, Y, ymarks):
    xt = alt.Chart(pd.DataFrame({"t": X_TICKS})).mark_rule(color=AX, strokeWidth=3).encode(
        x=X, y=alt.value(H), y2=alt.value(H - 16))
    yt = alt.Chart(pd.DataFrame({"v": ymarks})).mark_rule(color=AX, strokeWidth=3).encode(
        y=Y, x=alt.value(0), x2=alt.value(16))
    return [xt, yt]


def txt(X, Y, t, v, s, size, italic=True, font=SERIF):
    df = pd.DataFrame({"t": t, "v": v, "s": s})
    return alt.Chart(df).mark_text(font=font, fontSize=size, fontStyle="italic" if italic else "normal",
                                   align="left", baseline="alphabetic", color="black").encode(
        x=X, y=Y, text="s:N")


def label(s, px, py, size, bold=False, angle=0):
    kw = dict(font=SANS, fontSize=size, fontWeight="bold" if bold else "normal", align="center",
              baseline="alphabetic", color="black")
    if angle:
        kw["angle"] = angle
    return alt.Chart(pd.DataFrame({"s": [s]})).mark_text(**kw).encode(
        x=alt.value(px), y=alt.value(py), text="s:N")


def panel(layers, title, dx, title_y, ytitle=None, xtitle=None, xtitle_x=0, top_pad=False):
    extra = [label(title, W / 2 + dx, title_y, 63, bold=True)]
    if ytitle:
        extra.append(label(ytitle, -106, H / 2, 62, angle=270))
    if xtitle:
        extra.append(label(xtitle, xtitle_x, H + 110, 64))
    if top_pad:
        extra.append(alt.Chart(ONE).mark_rule(color=BG, strokeWidth=1).encode(
            x=alt.value(0), y=alt.value(-TOP), y2=alt.value(-TOP + 12)))
    return alt.layer(*layers, *extra).properties(width=W, height=H)


# ---------- panel 1 ----------
X1, Y1 = encodings(P1_YDOM, P1_YTICKS)
arrow_rule = alt.Chart(pd.DataFrame({"t": ARROW_T, "v": ARROW_TOP, "v2": ARROW_TIP})).mark_rule(
    color="black", strokeWidth=2).encode(x=X1, y=Y1, y2="v2:Q")
arrow_head = alt.Chart(pd.DataFrame({"t": ARROW_T, "v": ARROW_TIP})).mark_point(
    shape="M-0.5,-1.3L0.5,-1.3L0,0Z", size=500, filled=True, color="black", opacity=1).encode(x=X1, y=Y1)
p1 = panel([
    line(X1, Y1, T02, RI_SIM, ORANGE),
    line(X1, Y1, T02, RE_SIM, BLUE),
    line(X1, Y1, RI_MOD_T, RI_MOD_V, RED_D, 8, DASH, 0.72),
    line(X1, Y1, RE_MOD_T, RE_MOD_V, BLUE_D, 8, DASH, 0.72),
    *ticks(X1, Y1, P1_YTICKS),
    arrow_rule, arrow_head,
    txt(X1, Y1, CV_T, CV_V, ["CV"] * 4, 78),
    txt(X1, Y1, CV_SUB_T, CV_SUB_V, CV_SUB_S, 48),
    txt(X1, Y1, CV_VAL_T, CV_V, CV_VAL_S, 78, italic=False),
    txt(X1, Y1, R_T, R_V, ["r", "r"], 64),
    txt(X1, Y1, R_SUB_T, R_SUB_V, R_SUB_S, 44),
], TITLES[0], 63, -32, ytitle=Y_TITLES[0], top_pad=True)

# ---------- panel 2 ----------
X2, Y2 = encodings(P2_YDOM, P2_YTICKS)
p2 = panel([
    line(X2, Y2, XSIM_T, XSIM_V, ORANGE),
    line(X2, Y2, USIM_T, USIM_V, BLUE),
    line(X2, Y2, XUSIM_T, XUSIM_V, YELLOW),
    line(X2, Y2, XMOD_T, XMOD_V, RED_D, 8, DASH, 0.85),
    line(X2, Y2, UMOD_T, UMOD_V, BLUE_D, 8, DASH, 0.8),
    line(X2, Y2, XUMOD_T, XUMOD_V, "black", 8, DASH, 0.9),
    *ticks(X2, Y2, P2_YTICKS),
    line(X2, Y2, LEG_T, [LEG_V[0]] * 2, RED_D, 8),
    line(X2, Y2, LEG_T, [LEG_V[1]] * 2, BLUE_D, 8),
    line(X2, Y2, LEG_T, [LEG_V[2]] * 2, "#ffff00", 8),
    line(X2, Y2, LEG_T, [LEG_V[2]] * 2, "black", 8, [30, 24], 1.0, 46),
    txt(X2, Y2, LEG_LBL_T, LEG_LBL_V, LEG_LBL_S, 72),
], TITLES[1], 37, -32)

# ---------- panel 3 ----------
X3, Y3 = encodings(P3_YDOM, P3_YTICKS)
p3 = panel([
    line(X3, Y3, T02, SUME_SIM, YELLOW),
    line(X3, Y3, T02, MUEE_SIM, BLUE),
    line(X3, Y3, T02, MUIE_SIM, ORANGE),
    line(X3, Y3, MUEE_MOD_T, MUEE_MOD_V, BLUE_D, 8, DASH, 0.72),
    line(X3, Y3, MUIE_MOD_T, MUIE_MOD_V, RED_D, 8, DASH, 0.72),
    *ticks(X3, Y3, P3_YTICKS),
    txt(X3, Y3, P3_MU_T, P3_MU_V, ["\u03bc"] * 4, 64),
    txt(X3, Y3, P3_SUB_T, P3_SUB_V, P3_SUB_S, 44),
    txt(X3, Y3, P3_PLUS_T, P3_PLUS_V, ["+"], 64, italic=False),
], TITLES[2], 63, -29, ytitle=Y_TITLES[1])

# ---------- panel 4 ----------
X4, Y4 = encodings(P4_YDOM, P4_YTICKS)
p4 = panel([
    line(X4, Y4, T02, SUMI_SIM, YELLOW),
    line(X4, Y4, T02, MUEI_SIM, BLUE),
    line(X4, Y4, T02, MUII_SIM, ORANGE),
    line(X4, Y4, MUEI_MOD_T, MUEI_MOD_V, BLUE_D, 8, DASH, 0.72),
    line(X4, Y4, MUII_MOD_T, MUII_MOD_V, RED_D, 8, DASH, 0.72),
    *ticks(X4, Y4, P4_YMARKS),
    txt(X4, Y4, P4_MU_T, P4_MU_V, ["\u03bc"] * 4, 64),
    txt(X4, Y4, P4_SUB_T, P4_SUB_V, P4_SUB_S, 44),
    txt(X4, Y4, P4_PLUS_T, P4_PLUS_V, ["+"], 64, italic=False),
], TITLES[3], 37, -29)

# ---------- panel 5 ----------
X5, Y5 = encodings(P5_YDOM, P5_YTICKS)
p5 = panel([
    line(X5, Y5, T01, SEE_SIM, BLUE),
    line(X5, Y5, T01, SIE_SIM, ORANGE),
    line(X5, Y5, SEE_MOD_T, SEE_MOD_V, BLUE_D, 8, DASH, 0.72),
    line(X5, Y5, SIE_MOD_T, SIE_MOD_V, RED_D, 8, DASH, 0.72),
    *ticks(X5, Y5, P5_YTICKS),
    txt(X5, Y5, P5_SIG_T, P5_SIG_V, ["\u03c3"] * 2, 66),
    txt(X5, Y5, P5_SUB_T, P5_SUB_V, P5_SUB_S, 44),
], TITLES[4], 63, -38, ytitle=Y_TITLES[2], xtitle=X_TITLE, xtitle_x=889)

# ---------- panel 6 ----------
X6, Y6 = encodings(P6_YDOM, P6_YTICKS)
p6 = panel([
    line(X6, Y6, T01, SEI_SIM, BLUE),
    line(X6, Y6, T01, SII_SIM, ORANGE),
    line(X6, Y6, SEI_MOD_T, SEI_MOD_V, BLUE_D, 8, DASH, 0.72),
    line(X6, Y6, SII_MOD_T, SII_MOD_V, RED_D, 8, DASH, 0.72),
    *ticks(X6, Y6, P6_YMARKS),
    txt(X6, Y6, P6_SIG_T, P6_SIG_V, ["\u03c3"] * 2, 66),
    txt(X6, Y6, P6_SUB_T, P6_SUB_V, P6_SUB_S, 44),
], TITLES[5], 37, -38, xtitle=X_TITLE, xtitle_x=909)

# ---------- page frame ----------
header = alt.layer(
    alt.Chart(ONE).mark_rect(color=BG).encode(x=alt.value(2854), x2=alt.value(3820), y=alt.value(0),
                                              y2=alt.value(24)),
    alt.Chart(pd.DataFrame({"s": [HEADER_TEXT]})).mark_text(
        font=SANS, fontSize=70, align="left", baseline="alphabetic", color="black", clip=True).encode(
        x=alt.value(3093), y=alt.value(8), text="s:N"),
).properties(width=3820, height=24)
# white margin strip on the left; it shares the grid's top offset, so it reaches up by TOP
strip = alt.Chart(ONE).mark_rect(color="white").encode(
    x=alt.value(0), x2=alt.value(21), y=alt.value(-TOP), y2=alt.value(2101 - TOP)
).properties(width=21, height=2101 - TOP)

grid = alt.concat(p1, p2, p3, p4, p5, p6, columns=2, spacing={"row": 185, "column": 196}, bounds="flush")
body = alt.hconcat(strip, grid, spacing=107)

chart = alt.vconcat(header, body, spacing=0).properties(
    background=BG, padding=0
).configure_view(fill="white", stroke="transparent", strokeWidth=0)

chart.save("out.html", embed_options={"renderer": "svg", "actions": False})
